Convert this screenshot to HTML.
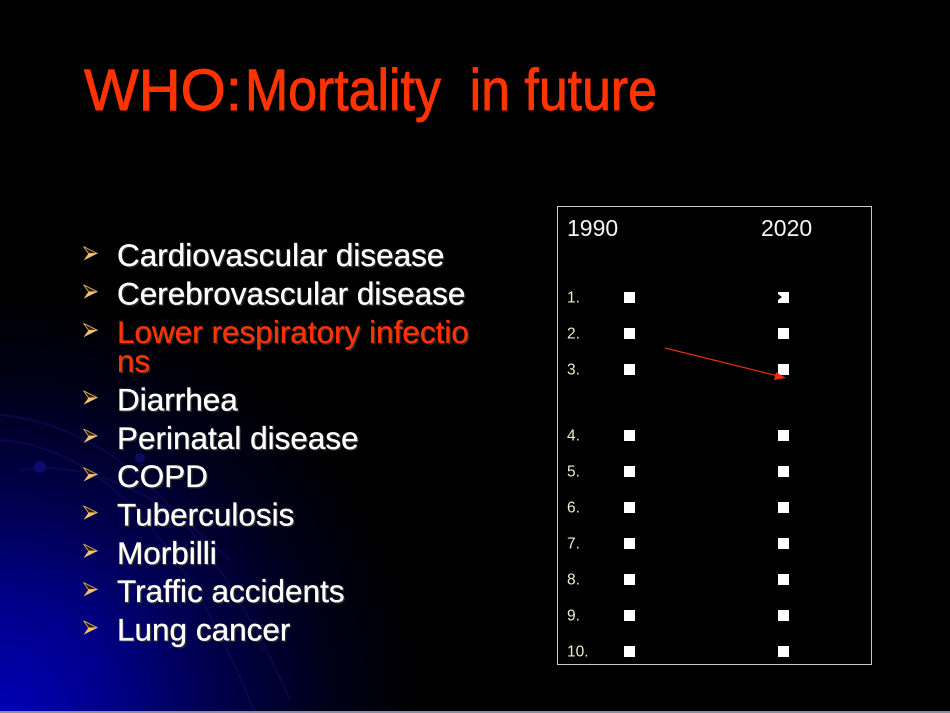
<!DOCTYPE html>
<html><head><meta charset="utf-8"><style>
html,body{margin:0;padding:0;background:#000;}
#s{position:relative;width:950px;height:713px;overflow:hidden;
background:radial-gradient(circle at 0px 713px,#0000b4 0px,#00008a 110px,#00004a 220px,#000018 330px,#000 420px);}
svg{position:absolute;left:0;top:0;}
</style></head><body><div id="s">
<svg width="950" height="713" viewBox="0 0 950 713" xmlns="http://www.w3.org/2000/svg">
<g fill="none" stroke="#0a0a50" stroke-width="2" opacity="0.8">
<path d="M0,415 Q170,430 290,700"/>
<path d="M0,440 Q150,450 255,713"/>
<path d="M20,470 Q120,455 230,560"/>
</g>
<circle cx="40" cy="467" r="6" fill="#0a0a70"/>
<circle cx="140" cy="458" r="5" fill="#0a0a60"/>
<circle cx="263" cy="647" r="5" fill="#05053a"/>
<rect x="0" y="711" width="950" height="2" fill="#8a8aa0"/>

<g font-family="Liberation Sans, Arial, sans-serif" fill="#ff3300" stroke="#ff3300" stroke-width="0.9">
<text x="84" y="110" font-size="58">WHO:</text>
<text x="245" y="110" font-size="58" textLength="412" lengthAdjust="spacingAndGlyphs" xml:space="preserve">Mortality  in future</text>
</g>

<defs>
<g id="b">
<polygon points="0,-7 14,0 5,0" fill="#2a1e08" stroke="#d8a860" stroke-width="0.9"/>
<polygon points="5,0 14,0 0,7" fill="#f5c070"/>
</g>
</defs>
<use href="#b" x="83.5" y="253.5"/>
<use href="#b" x="83.5" y="291.8"/>
<use href="#b" x="83.5" y="330.3"/>
<use href="#b" x="83.5" y="397.8"/>
<use href="#b" x="83.5" y="436"/>
<use href="#b" x="83.5" y="474.5"/>
<use href="#b" x="83.5" y="512.8"/>
<use href="#b" x="83.5" y="551"/>
<use href="#b" x="83.5" y="589.5"/>
<use href="#b" x="83.5" y="627.8"/>

<g font-family="Liberation Sans, Arial, sans-serif" font-size="31.5" fill="#2a2a2a" transform="translate(1.5,1.5)">
<text x="117" y="266">Cardiovascular disease</text>
<text x="117" y="304.5">Cerebrovascular disease</text>
<text x="117" y="343">Lower respiratory infectio</text>
<text x="117" y="372">ns</text>
<text x="117" y="410.5">Diarrhea</text>
<text x="117" y="449">Perinatal disease</text>
<text x="117" y="487">COPD</text>
<text x="117" y="525.5">Tuberculosis</text>
<text x="117" y="564">Morbilli</text>
<text x="117" y="602">Traffic accidents</text>
<text x="117" y="640.5">Lung cancer</text>
</g>
<g font-family="Liberation Sans, Arial, sans-serif" font-size="31.5" fill="#ffffff" stroke="#ffffff" stroke-width="0.35">
<text x="117" y="266">Cardiovascular disease</text>
<text x="117" y="304.5">Cerebrovascular disease</text>
<text x="117" y="343" fill="#ff3300" stroke="#ff3300">Lower respiratory infectio</text>
<text x="117" y="372" fill="#ff3300" stroke="#ff3300">ns</text>
<text x="117" y="410.5">Diarrhea</text>
<text x="117" y="449">Perinatal disease</text>
<text x="117" y="487">COPD</text>
<text x="117" y="525.5">Tuberculosis</text>
<text x="117" y="564">Morbilli</text>
<text x="117" y="602">Traffic accidents</text>
<text x="117" y="640.5">Lung cancer</text>
</g>

<rect x="557.5" y="206.5" width="314" height="458" fill="none" stroke="#c8c8c8" stroke-width="1"/>
<g font-family="Liberation Sans, Arial, sans-serif" font-size="23" fill="#f4f4f4">
<text x="567" y="236">1990</text>
<text x="761" y="236">2020</text>
</g>
<g font-family="Liberation Sans, Arial, sans-serif" font-size="15.5" fill="#eeeed0">
<text x="567" y="302.5">1.</text>
<text x="567" y="338.5">2.</text>
<text x="567" y="374.5">3.</text>
<text x="567" y="440.5">4.</text>
<text x="567" y="476.5">5.</text>
<text x="567" y="512.5">6.</text>
<text x="567" y="548.5">7.</text>
<text x="567" y="584.5">8.</text>
<text x="567" y="620.5">9.</text>
<text x="567" y="656.5">10.</text>
</g>
<g fill="#ffffff">
<rect x="624" y="292" width="11" height="11"/><rect x="778" y="292" width="11" height="11"/>
<rect x="624" y="328" width="11" height="11"/><rect x="778" y="328" width="11" height="11"/>
<rect x="624" y="364" width="11" height="11"/><rect x="778" y="364" width="11" height="11"/>
<rect x="624" y="430" width="11" height="11"/><rect x="778" y="430" width="11" height="11"/>
<rect x="624" y="466" width="11" height="11"/><rect x="778" y="466" width="11" height="11"/>
<rect x="624" y="502" width="11" height="11"/><rect x="778" y="502" width="11" height="11"/>
<rect x="624" y="538" width="11" height="11"/><rect x="778" y="538" width="11" height="11"/>
<rect x="624" y="574" width="11" height="11"/><rect x="778" y="574" width="11" height="11"/>
<rect x="624" y="610" width="11" height="11"/><rect x="778" y="610" width="11" height="11"/>
<rect x="624" y="646" width="11" height="11"/><rect x="778" y="646" width="11" height="11"/>
</g>
<polygon points="778,294 782,297 778,300" fill="#000"/>
<line x1="665" y1="348" x2="778" y2="376" stroke="#e03010" stroke-width="1.2"/>
<polygon points="786,378 776,372 774,380" fill="#e83010"/>
</svg>
</div></body></html>
